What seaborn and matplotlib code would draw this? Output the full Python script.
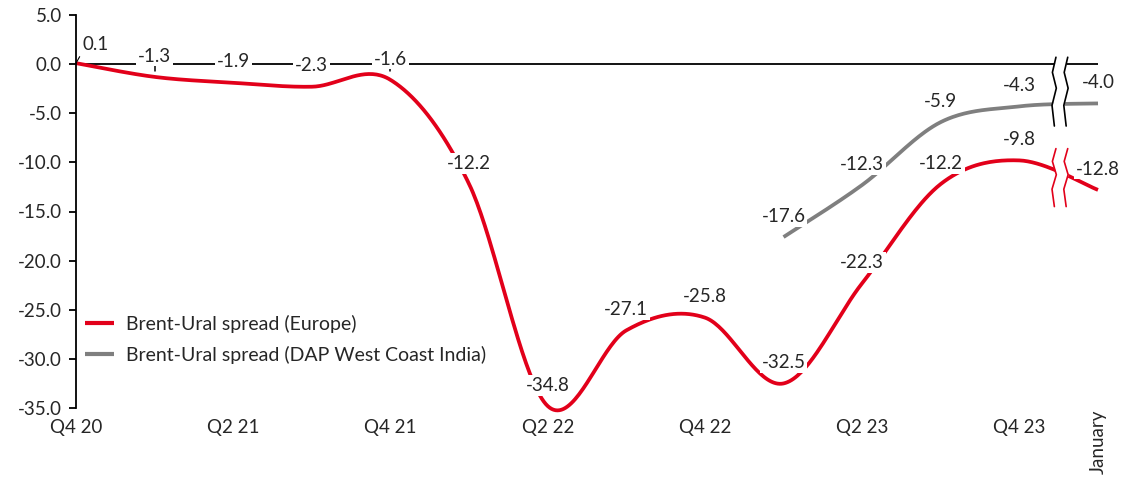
import numpy as np
import matplotlib
matplotlib.use("Agg")
import matplotlib.pyplot as plt
import matplotlib.transforms as mtransforms
import seaborn as sns

# ---------------- data ----------------
quarters = ['Q4 20', 'Q1 21', 'Q2 21', 'Q3 21', 'Q4 21', 'Q1 22', 'Q2 22',
            'Q3 22', 'Q4 22', 'Q1 23', 'Q2 23', 'Q3 23', 'Q4 23', 'January']
europe = [0.1, -1.3, -1.9, -2.3, -1.6, -12.2, -34.8, -27.1, -25.8, -32.5,
          -22.3, -12.2, -9.8, -12.8]
india_quarters = ['Q1 23', 'Q2 23', 'Q3 23', 'Q4 23', 'January']
india = [-17.6, -12.3, -5.9, -4.3, -4.0]
shown_labels = ['Q4 20', 'Q2 21', 'Q4 21', 'Q2 22', 'Q4 22', 'Q2 23', 'Q4 23', 'January']
ticked_on_zero = ['Q1 21', 'Q2 21', 'Q3 21', 'Q4 21']
europe_name = 'Brent-Ural spread (Europe)'
india_name = 'Brent-Ural spread (DAP West Coast India)'

RED = '#E2001A'
GREY = '#7F7F7F'
FS = 13.5
LFS = 14

sns.set_style('white')
plt.rcParams['font.family'] = ['Lato', 'DejaVu Sans']

pos = {q: i for i, q in enumerate(quarters)}


def smooth(xs, ys, n=40):
    """Excel-style smoothed line: cubic Bezier through points (Catmull-Rom, 1/6)."""
    P = np.column_stack([xs, ys]).astype(float)
    out = []
    for i in range(len(P) - 1):
        p0 = P[i - 1] if i > 0 else P[i]
        p1, p2 = P[i], P[i + 1]
        p3 = P[i + 2] if i + 2 < len(P) else P[i + 1]
        c1 = p1 + (p2 - p0) / 6.0
        c2 = p2 - (p3 - p1) / 6.0
        t = np.linspace(0, 1, n, endpoint=(i == len(P) - 2))[:, None]
        B = (1 - t) ** 3 * p1 + 3 * (1 - t) ** 2 * t * c1 + 3 * (1 - t) * t ** 2 * c2 + t ** 3 * p2
        out.append(B)
    return np.vstack(out)


W, H = 1122, 482
fig = plt.figure(figsize=(W / 100, H / 100), dpi=100)
ax = fig.add_axes([76 / W, 1 - 408 / H, (1098 - 76) / W, (408 - 15) / H])

xe = [pos[q] for q in quarters]
xi = [pos[q] for q in india_quarters]
ce = smooth(xe, europe)
ci = smooth(xi, india)

sns.lineplot(x=ce[:, 0], y=ce[:, 1], sort=False, estimator=None, color=RED,
             linewidth=2.7, label=europe_name, ax=ax, zorder=2)
sns.lineplot(x=ci[:, 0], y=ci[:, 1], sort=False, estimator=None, color=GREY,
             linewidth=2.7, label=india_name, ax=ax, zorder=2)
for ln in ax.lines:
    ln.set_clip_on(False)
    ln.set_solid_capstyle('butt')

ax.set_xlim(0, len(quarters) - 1)
ax.set_ylim(-35, 5)

# zero line acting as category axis
ax.axhline(0, color='black', lw=1.3, zorder=1)
for q in ticked_on_zero:
    ax.plot([pos[q], pos[q]], [0, -0.75], color='black', lw=1.1, zorder=1)

# axis breaks between Q4 23 and January
def draw_break(xc, ytop, ybot, color):
    fr = np.array([0, 0.22, 0.45, 0.7, 1.0])
    off = np.array([0.02, -0.025, 0.025, -0.03, 0.0])
    ys = ytop + (ybot - ytop) * fr
    xl = xc - 0.075 + off
    xr = xc + 0.075 + off
    ax.fill_betweenx(ys, xl, xr, color='white', zorder=3, lw=0)
    ax.plot(xl, ys, color=color, lw=1.2, zorder=4, clip_on=False)
    ax.plot(xr, ys, color=color, lw=1.2, zorder=4, clip_on=False)

xb = (pos['Q4 23'] + pos['January']) / 2 + 0.02
draw_break(xb, 0.7, -6.3, 'black')
draw_break(xb, -8.6, -14.5, RED)

# data labels
bbox = dict(boxstyle='square,pad=0.1', fc='white', ec='none')
for i, v in enumerate(europe):
    if i == 0:
        ax.annotate(f'{v:.1f}', (xe[i], v), xytext=(5, 7), textcoords='offset points',
                    ha='left', va='bottom', fontsize=FS, zorder=6,
                    arrowprops=dict(arrowstyle='-', lw=0.8, color='black',
                                    shrinkA=0, shrinkB=0, relpos=(0, 0.15)))
        continue
    ax.annotate(f'{v:.1f}', (xe[i], v), xytext=(0, 15), textcoords='offset points',
                ha='center', va='center', fontsize=FS, bbox=bbox, zorder=6)
for x, v in zip(xi, india):
    ax.annotate(f'{v:.1f}', (x, v), xytext=(0, 15), textcoords='offset points',
                ha='center', va='center', fontsize=FS, bbox=bbox, zorder=6)

# axes styling
for s in ['top', 'right', 'bottom']:
    ax.spines[s].set_visible(False)
ax.spines['left'].set_color('black')
ax.spines['left'].set_linewidth(1.3)
ax.set_yticks(np.arange(-35, 5.01, 5))
ax.set_yticklabels([f'{t:.1f}' for t in np.arange(-35, 5.01, 5)], fontsize=FS)
ax.tick_params(axis='y', left=True, direction='out', length=5, width=1.3,
               color='black', pad=5)
ax.set_xticks(range(len(quarters)))
ax.set_xticklabels([q if q in shown_labels else '' for q in quarters], fontsize=FS)
ax.tick_params(axis='x', bottom=False, length=0, pad=8)
for lab in ax.get_xticklabels():
    if lab.get_text() == 'January':
        lab.set_rotation(90)
        lab.set_va('top')
        lab.set_transform(lab.get_transform() +
                          mtransforms.ScaledTranslation(0, 7 / 72, fig.dpi_scale_trans))
ax.set_xlabel('')
ax.set_ylabel('')
ax.grid(False)

leg = ax.legend(loc='upper left', bbox_to_anchor=(85 / W, 1 - 315 / H),
                bbox_transform=fig.transFigure, frameon=False, fontsize=LFS,
                handlelength=1.5, handletextpad=0.6, labelspacing=0.65,
                borderpad=0, borderaxespad=0)
for h in leg.get_lines():
    h.set_linewidth(3)

fig.savefig('out.png', dpi=100, facecolor='white')
